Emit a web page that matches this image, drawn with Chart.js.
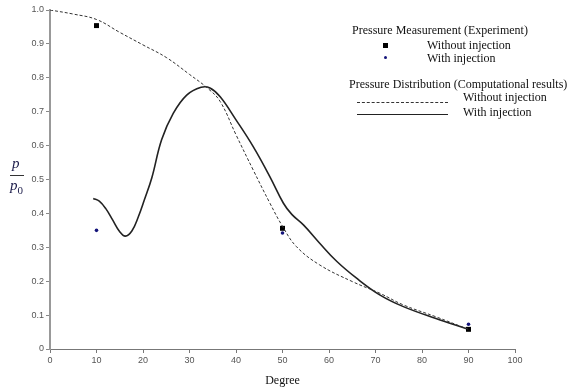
<!DOCTYPE html>
<html>
<head>
<meta charset="utf-8">
<script src="https://cdn.jsdelivr.net/npm/chart.js@4.4.0/dist/chart.umd.min.js"></script>
<style>
  html, body { margin: 0; padding: 0; background: #fff; }
  #wrap { position: relative; width: 588px; height: 388px; overflow: hidden; }
  #c { position: absolute; left: 0; top: 0; }
  .t { position: absolute; font-family: "Liberation Serif", "Times New Roman", serif; font-size: 12px; line-height: 14px; color: #111; white-space: nowrap; }
  .yl { position: absolute; font-family: "Liberation Serif", "Times New Roman", serif; font-style: italic; font-size: 15px; line-height: 15px; color: #1c1c4a; }
  .dash { position: absolute; height: 0; border-top: 1px dashed #333; }
  .solid { position: absolute; height: 0; border-top: 1px solid #222; }
  .sq { position: absolute; width: 5px; height: 5px; background: #000; }
  .dot { position: absolute; width: 3px; height: 3px; border-radius: 50%; background: #14147a; }
</style>
</head>
<body>
<div id="wrap">
  <canvas id="c" width="588" height="388"></canvas>
  <div class="yl" style="left:12px; top:156px;">p</div>
  <div style="position:absolute; left:10px; top:175px; width:14px; height:0; border-top:1px solid #333;"></div>
  <div class="yl" style="left:10px; top:178px;">p<sub style="font-size:11px; font-style:normal;">0</sub></div>

  <div class="t" style="left:352px; top:23px;">Pressure Measurement (Experiment)</div>
  <div class="sq" style="left:383px; top:43px;"></div>
  <div class="t" style="left:427px; top:38px;">Without injection</div>
  <div class="dot" style="left:384px; top:56px;"></div>
  <div class="t" style="left:427px; top:51px;">With injection</div>
  <div class="t" style="left:349px; top:77px;">Pressure Distribution (Computational results)</div>
  <div class="dash" style="left:357px; top:102px; width:91px;"></div>
  <div class="t" style="left:463px; top:90px;">Without injection</div>
  <div class="solid" style="left:357px; top:114px; width:91px;"></div>
  <div class="t" style="left:463px; top:105px;">With injection</div>
</div>
<script>
// Experimental measurements
const expDegrees = [10, 50, 90];
const expWithout = [0.954, 0.356, 0.058];
const expWith = [0.350, 0.342, 0.073];

// Computational: without injection (dashed)
const compWithoutX = [0, 5, 10, 15, 20, 25, 30, 34, 36.6, 40, 43.7, 47.3, 50, 53, 58, 65, 71, 76, 83, 90];
const compWithoutY = [1.0, 0.988, 0.972, 0.934, 0.897, 0.86, 0.81, 0.768, 0.73, 0.632, 0.528, 0.43, 0.362, 0.302, 0.248, 0.199, 0.164, 0.13, 0.095, 0.058];

// Computational: with injection (solid)
const compWithX = [9.3, 10.6, 12, 13.5, 15, 16.2, 17.6, 19, 20.3, 21.9, 24, 26.5, 29.4, 32.5, 34.4, 36.6, 40, 43.7, 47.3, 50.2, 52, 54.5, 58, 61.7, 66, 71, 76, 83, 89.6];
const compWithY = [0.444, 0.436, 0.414, 0.38, 0.346, 0.333, 0.348, 0.39, 0.44, 0.505, 0.617, 0.695, 0.749, 0.772, 0.77, 0.744, 0.676, 0.597, 0.508, 0.43, 0.397, 0.366, 0.312, 0.258, 0.208, 0.159, 0.125, 0.09, 0.06];

// Tick labels
const xTicks = [0, 10, 20, 30, 40, 50, 60, 70, 80, 90, 100];
const yTicks = [0, 0.1, 0.2, 0.3, 0.4, 0.5, 0.6, 0.7, 0.8, 0.9, 1.0];

const pts = (xs, ys) => xs.map((x, i) => ({ x: x, y: ys[i] }));

new Chart(document.getElementById('c'), {
  type: 'scatter',
  data: {
    datasets: [
      { label: 'Without injection (computational)', data: pts(compWithoutX, compWithoutY), showLine: true,
        borderColor: '#333', borderWidth: 1, borderDash: [3, 2], pointRadius: 0, tension: 0.4, fill: false },
      { label: 'With injection (computational)', data: pts(compWithX, compWithY), showLine: true,
        borderColor: '#222', borderWidth: 1.6, pointRadius: 0, tension: 0.4, fill: false },
      { label: 'Without injection (experiment)', data: pts(expDegrees, expWithout), showLine: false,
        pointStyle: 'rect', pointRadius: 3.5, backgroundColor: '#000', borderColor: '#000', borderWidth: 0 },
      { label: 'With injection (experiment)', data: pts(expDegrees, expWith), showLine: false,
        pointStyle: 'circle', pointRadius: 1.8, backgroundColor: '#14147a', borderColor: '#14147a', borderWidth: 0 }
    ]
  },
  options: {
    responsive: false,
    animation: false,
    layout: { padding: { left: 0, right: 73, top: 10, bottom: 0 } },
    plugins: { legend: { display: false }, tooltip: { enabled: false } },
    scales: {
      x: {
        type: 'linear', min: 0, max: 100,
        afterBuildTicks: s => { s.ticks = xTicks.map(v => ({ value: v })); },
        afterFit: s => { s.height = 39; },
        grid: { display: true, drawOnChartArea: false, drawTicks: true, tickLength: 4, color: '#777' },
        border: { display: true, color: '#777', width: 1 },
        ticks: { color: '#555', font: { family: 'Liberation Sans, Arial, sans-serif', size: 9 }, padding: 2, maxRotation: 0 },
        title: { display: true, text: 'Degree', color: '#111', font: { family: 'Liberation Serif, Times New Roman, serif', size: 12 }, padding: { top: 2, bottom: 0 } }
      },
      y: {
        type: 'linear', min: 0, max: 1,
        afterBuildTicks: s => { s.ticks = yTicks.map(v => ({ value: v })); },
        afterFit: s => { s.width = 50; },
        grid: { display: true, drawOnChartArea: false, drawTicks: true, tickLength: 4, color: '#888' },
        border: { display: true, color: '#999', width: 2 },
        ticks: { color: '#555', font: { family: 'Liberation Sans, Arial, sans-serif', size: 9 }, padding: 2,
          callback: v => v === 0 ? '0' : v.toFixed(1) }
      }
    }
  }
});
</script>
</body>
</html>
